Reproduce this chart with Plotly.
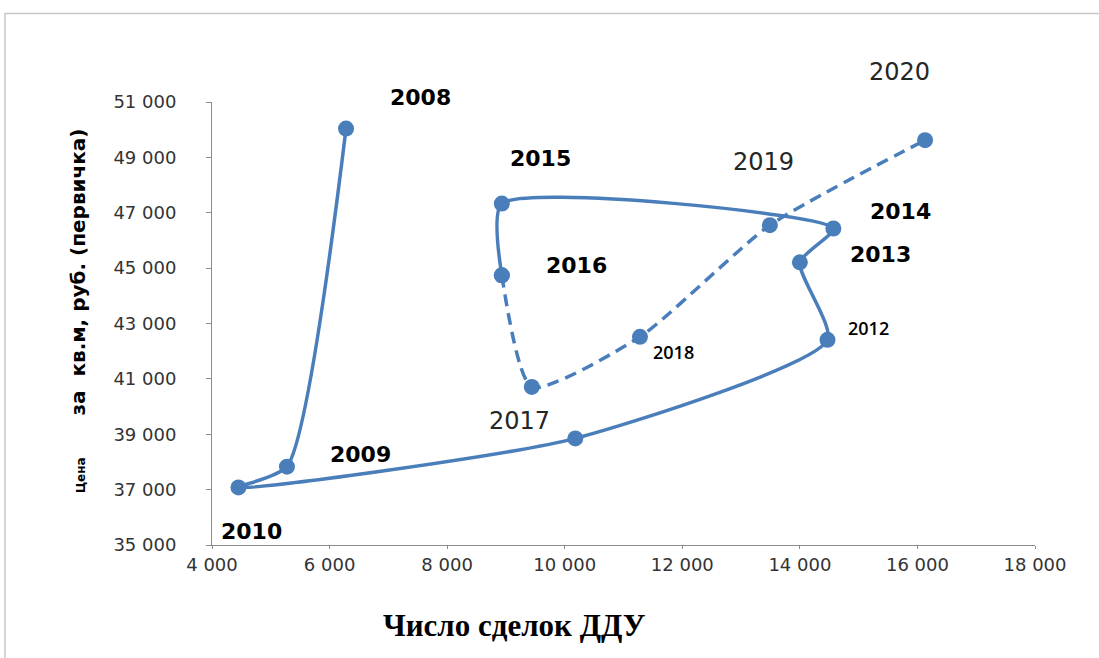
import plotly.graph_objects as go

# Yearly path: number of DDU deals vs. price per sq. m (primary market)
years = [2008, 2009, 2010, 2011, 2012, 2013, 2014, 2015, 2016, 2017, 2018, 2019, 2020]
deals = [6280, 5275, 4450, 10180, 14470, 14000, 14570, 8930, 8930, 9440, 11280, 13490, 16130]
price = [50040, 37830, 37080, 38850, 42410, 45210, 46430, 47330, 44740, 40710, 42520, 46550, 49620]

# 2008-2016 drawn solid, 2016-2020 dashed
solid_years = years[:9]
dashed_years = years[8:]

x_ticks = [4000, 6000, 8000, 10000, 12000, 14000, 16000, 18000]
y_ticks = [35000, 37000, 39000, 41000, 43000, 45000, 47000, 49000, 51000]

BLUE = "#4a7ebb"

# label styling per year: (xshift, yshift, style)
label_style = {
    2008: (74, 31, "bold"),
    2009: (74, 12, "bold"),
    2010: (13, -44, "bold"),
    2012: (41, 12, "small"),
    2013: (81, 8, "bold"),
    2014: (67, 17, "bold"),
    2015: (39, 45, "bold"),
    2016: (75, 10, "bold"),
    2017: (-12, -34, "regular"),
    2018: (34, -15, "small"),
    2019: (-6, 63, "regular"),
    2020: (-26, 68, "regular"),
}
fonts = {
    "bold": dict(family="DejaVu Sans", size=22, color="#000000", weight="bold"),
    "regular": dict(family="DejaVu Sans", size=24, color="#262626"),
    "small": dict(family="Open Sans", size=18, color="#000000", weight=600),
}

sel = lambda arr, ys: [arr[years.index(y)] for y in ys]

fig = go.Figure()
fig.add_trace(go.Scatter(
    x=sel(deals, solid_years), y=sel(price, solid_years),
    mode="lines+markers",
    line=dict(color=BLUE, width=3.5, shape="spline", smoothing=0.6),
    marker=dict(color=BLUE, size=16),
    showlegend=False, hoverinfo="skip",
))
fig.add_trace(go.Scatter(
    x=sel(deals, dashed_years), y=sel(price, dashed_years),
    mode="lines+markers",
    line=dict(color=BLUE, width=3.5, shape="spline", smoothing=0.6, dash="12px,7px"),
    marker=dict(color=BLUE, size=16),
    showlegend=False, hoverinfo="skip",
))

annotations = []
for yr, (dx, dy, style) in label_style.items():
    i = years.index(yr)
    annotations.append(dict(
        x=deals[i], y=price[i], xref="x", yref="y",
        text=str(yr), showarrow=False, xshift=dx, yshift=dy,
        font=fonts[style],
    ))

# vertical axis title with a small leading word
annotations.append(dict(
    xref="paper", yref="paper", x=-0.18, y=0.53,
    text=("<span style='font-size:12px'>Цена</span>      "
          "за  кв.м, руб. (первичка)"),
    textangle=-90, showarrow=False,
    font=dict(family="DejaVu Sans", size=20, color="#000000", weight="bold"),
))
# horizontal axis title
annotations.append(dict(
    xref="paper", yref="paper", x=0.367, y=-0.225,
    text="<b>Число сделок ДДУ</b>", showarrow=False,
    font=dict(family="Liberation Serif", size=31, color="#000000"),
))

axis_common = dict(
    showgrid=False, zeroline=False,
    showline=True, linecolor="#8c8c8c", linewidth=1,
    ticks="outside", tickcolor="#8c8c8c",
    tickformat=",d",
    tickfont=dict(family="DejaVu Sans", size=18, color="#333333"),
)

fig.update_layout(
    width=1099, height=658,
    margin=dict(l=212, r=64, t=102, b=113),
    paper_bgcolor="white", plot_bgcolor="white",
    separators=", ",
    xaxis=dict(range=[4000, 18000], tickvals=x_ticks, ticklen=3,
               ticklabelstandoff=0, **axis_common),
    yaxis=dict(range=[35000, 51000], tickvals=y_ticks, ticklen=5,
               ticklabelstandoff=26, **axis_common),
    annotations=annotations,
    shapes=[dict(
        type="rect", xref="paper", yref="paper",
        x0=-0.2515, x1=1.3, y0=-0.6, y1=1.2,
        line=dict(color="#c8c8c8", width=1.5), layer="below",
    )],
)

fig.write_html("out.html")
